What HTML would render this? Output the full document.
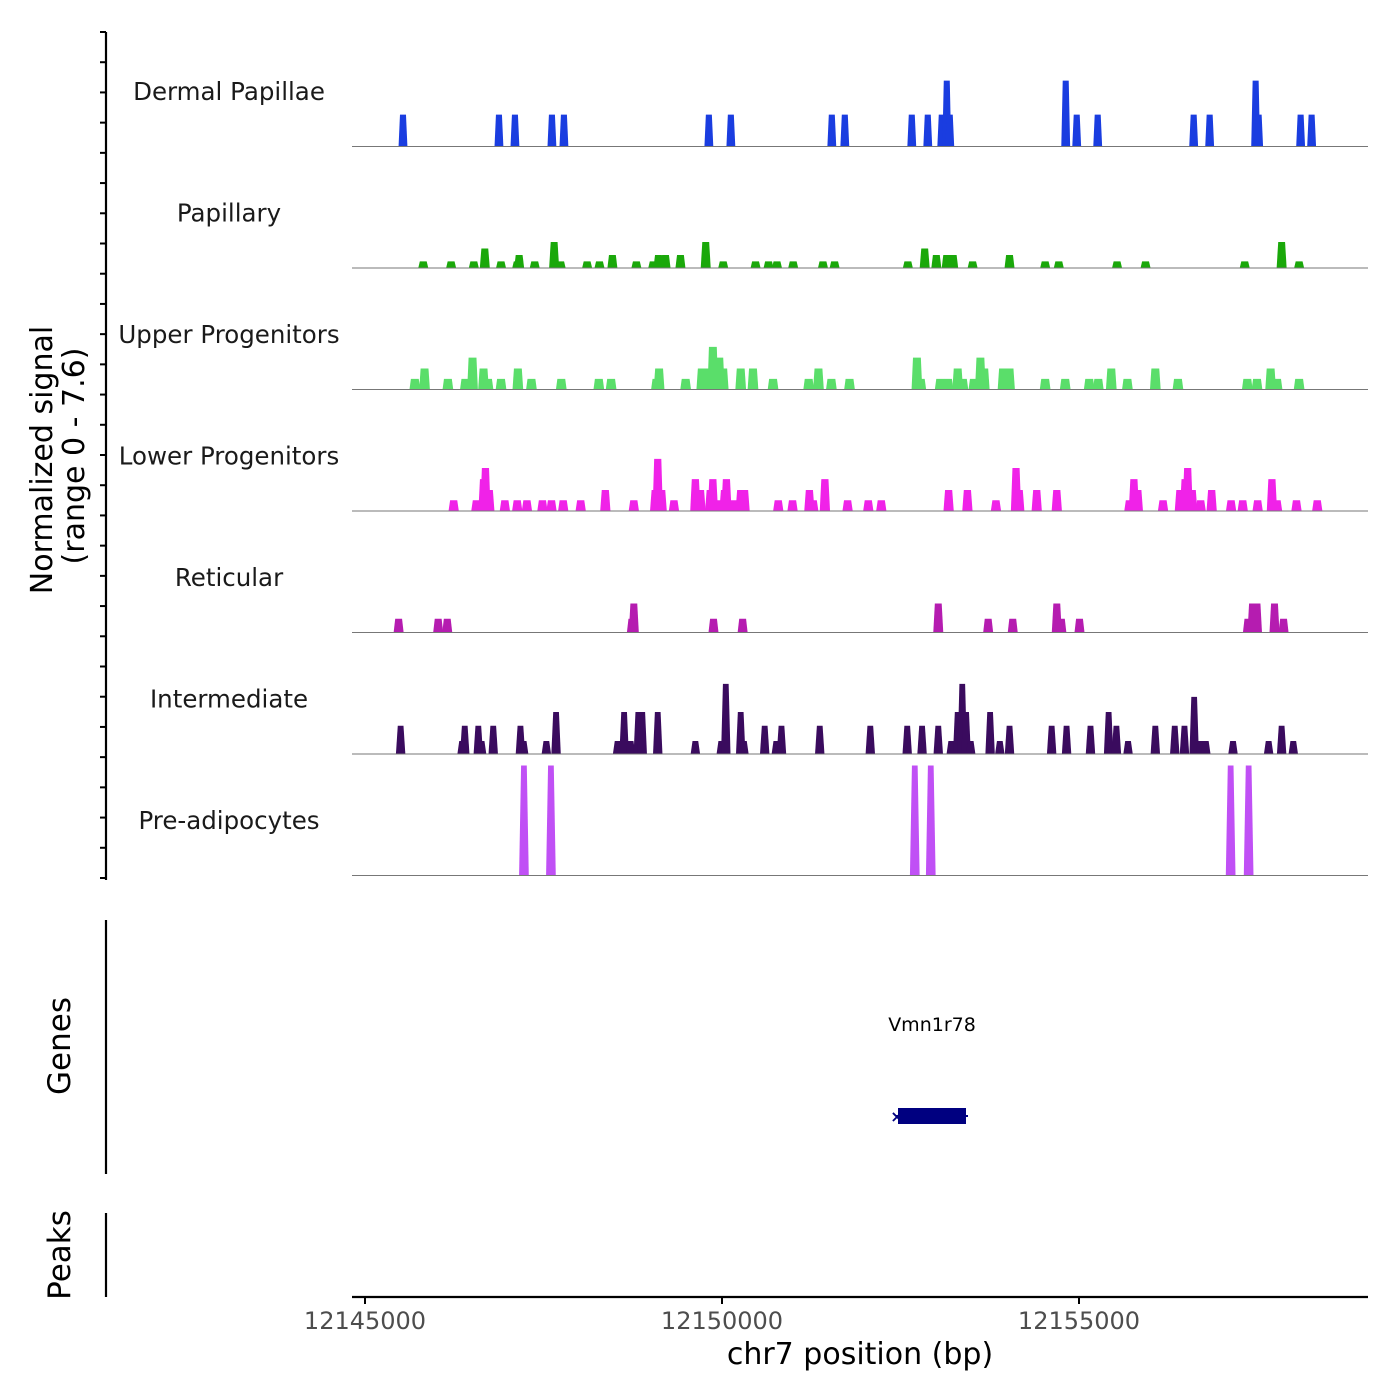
<!DOCTYPE html>
<html><head><meta charset="utf-8"><style>
body{margin:0;background:#fff}
svg{display:block;font-family:"DejaVu Sans","Liberation Sans",sans-serif}
</style></head><body>
<svg id="chart" width="1400" height="1400" viewBox="0 0 1400 1400" xmlns="http://www.w3.org/2000/svg">
<rect width="1400" height="1400" fill="#fff"/>
<g id="tracks"></g>
<g id="yaxis"></g>
<text transform="translate(52,460) rotate(-90)" text-anchor="middle" font-size="30" fill="#000">Normalized signal</text>
<text transform="translate(84,456) rotate(-90)" text-anchor="middle" font-size="30" fill="#000">(range 0 - 7.6)</text>
<line x1="106" y1="920" x2="106" y2="1174" stroke="#000" stroke-width="2.2"/>
<text transform="translate(70,1046) rotate(-90)" text-anchor="middle" font-size="31">Genes</text>
<text x="932" y="1031" text-anchor="middle" font-size="19">Vmn1r78</text>
<g>
<line x1="896" y1="1116" x2="968" y2="1116" stroke="#000080" stroke-width="2"/>
<rect x="898" y="1108" width="68" height="16" fill="#000080"/>
<text x="897" y="1122" text-anchor="middle" font-size="16" fill="#000080" font-weight="bold">×</text>
</g>
<line x1="106" y1="1213" x2="106" y2="1297" stroke="#000" stroke-width="2.2"/>
<text transform="translate(70,1255) rotate(-90)" text-anchor="middle" font-size="31">Peaks</text>
<g id="xaxis"></g>
<text x="860" y="1364" text-anchor="middle" font-size="30">chr7 position (bp)</text>
</svg>
<script>
const trackNames=["Dermal Papillae","Papillary","Upper Progenitors","Lower Progenitors","Reticular","Intermediate","Pre-adipocytes"];
const trackColors=["#1a3de0","#1aa80a","#5ade6a","#f022e8","#b51cb0","#3a0b5e","#c050f5"];
const xTicks=[12145000,12150000,12155000];
const dermalPos=[12145532,12146876,12147100,12147618,12147786,12149816,12150124,12151538,12151720,12152658,12152882,12153078,12153148,12153190,12154814,12154968,12155262,12156606,12156830,12157474,12157516,12158104,12158258];
const dermalVal=[2.2,2.2,2.2,2.2,2.2,2.2,2.2,2.2,2.2,2.2,2.2,2.2,4.55,2.2,4.55,2.2,2.2,2.2,2.2,4.55,2.2,2.2,2.2];
const papPos=[12145816,12146206,12146524,12146678,12146905,12147132,12147159,12147377,12147649,12147740,12148111,12148284,12148465,12148801,12149037,12149110,12149209,12149418,12149772,12150017,12150470,12150652,12150770,12150997,12151414,12151577,12152603,12152839,12153002,12153147,12153238,12153510,12154027,12154526,12154717,12155533,12155932,12157321,12157838,12158083];
const papVal=[0.46,0.46,0.46,1.35,0.46,0.46,0.9,0.46,1.8,0.46,0.46,0.46,0.9,0.46,0.46,0.9,0.9,0.9,1.8,0.46,0.46,0.46,0.46,0.46,0.46,0.46,0.46,1.35,0.9,0.9,0.9,0.46,0.9,0.46,0.46,0.46,0.46,0.46,1.8,0.46];
const upPos=[12145698,12145834,12146161,12146406,12146506,12146660,12146723,12146905,12147141,12147331,12147749,12148275,12148447,12149082,12149119,12149491,12149717,12149808,12149872,12149962,12150017,12150262,12150434,12150715,12151214,12151351,12151532,12151786,12152730,12152784,12153056,12153165,12153301,12153374,12153528,12153619,12153673,12153936,12154027,12154526,12154807,12155143,12155270,12155452,12155678,12156069,12156386,12157357,12157493,12157684,12157774,12158083];
const upVal=[0.73,1.45,0.73,0.73,2.2,1.45,0.73,0.73,1.45,0.73,0.73,0.73,0.73,0.73,1.45,0.73,1.45,1.45,2.95,2.2,1.45,1.45,1.45,0.73,0.73,1.45,0.73,0.73,2.2,0.73,0.73,0.73,1.45,0.73,0.73,2.2,1.45,1.45,1.45,0.73,0.73,0.73,0.73,1.45,0.73,1.45,0.73,0.73,0.73,1.45,0.73,0.73];
const lowPos=[12146242,12146560,12146660,12146687,12146741,12146959,12147132,12147268,12147485,12147612,12147776,12148021,12148366,12148765,12149064,12149100,12149155,12149327,12149627,12149699,12149835,12149872,12149953,12150035,12150062,12150153,12150262,12150316,12150788,12150988,12151224,12151278,12151441,12151759,12152049,12152231,12153174,12153437,12153837,12154118,12154163,12154408,12154689,12155706,12155769,12155824,12156177,12156413,12156486,12156522,12156586,12156704,12156858,12157130,12157293,12157502,12157702,12157774,12158046,12158337];
const lowVal=[0.74,0.74,2.2,2.97,1.45,0.74,0.74,0.74,0.74,0.74,0.74,0.74,1.45,0.74,1.45,3.6,1.45,0.74,2.2,1.45,1.45,2.2,0.74,1.45,2.2,0.74,1.45,1.45,0.74,0.74,1.45,0.74,2.2,0.74,0.74,0.74,1.45,1.45,0.74,2.97,1.45,1.45,1.45,0.74,2.2,1.45,0.74,1.45,2.2,2.97,1.45,0.74,1.45,0.74,0.74,0.74,2.2,0.74,0.74,0.74];
const retPos=[12145471,12146025,12146152,12148738,12148765,12149881,12150289,12153029,12153728,12154072,12154689,12154753,12155007,12157366,12157430,12157493,12157738,12157865];
const retVal=[0.95,0.95,0.95,0.95,2.0,0.95,0.95,2.0,0.95,0.95,2.0,0.95,0.95,0.95,2.0,2.0,2.0,0.95];
const intPos=[12145499,12146360,12146397,12146587,12146633,12146796,12147177,12147222,12147540,12147676,12148538,12148629,12148720,12148828,12148883,12149100,12149627,12149990,12150053,12150262,12150307,12150598,12150761,12150833,12151369,12152077,12152594,12152802,12153029,12153211,12153301,12153365,12153419,12153483,12153755,12153891,12154027,12154617,12154826,12155161,12155415,12155524,12155687,12156069,12156341,12156477,12156613,12156704,12156776,12157157,12157656,12157838,12158001];
const intVal=[1.95,0.9,1.95,1.95,0.9,1.95,1.95,0.9,0.9,2.9,0.9,2.9,0.9,2.9,2.9,2.9,0.9,0.9,4.85,2.9,0.9,1.95,0.9,1.95,1.95,1.95,1.95,1.95,1.95,0.9,2.9,4.85,2.9,0.9,2.9,0.9,1.95,1.95,1.95,1.95,2.9,1.95,0.9,1.95,1.95,1.95,3.95,0.9,0.9,0.9,0.9,1.95,0.9];
const prePos=[12147226,12147604,12152700,12152924,12157124,12157376];
const preVal=[7.6,7.6,7.6,7.6,7.6,7.6];

const NS="http://www.w3.org/2000/svg";
const X0=352,X1=1368;
function xs(bp){return 365+(bp-12145000)*357/5000;}
const trackTop=25,trackH=121.5,unitPx=14.47;
function baseY(i){return trackTop+trackH*(i+1);}
function ys(i,v){return baseY(i)-v*unitPx;}
const allPos=[dermalPos,papPos,upPos,lowPos,retPos,intPos,prePos];
const allVal=[dermalVal,papVal,upVal,lowVal,retVal,intVal,preVal];
const halfBot=[62,70,75,72,70,66,68],halfTop=[42,48,55,50,48,40,40];
const tg=document.getElementById('tracks');
for(let i=0;i<7;i++){
  const g=document.createElementNS(NS,'g');
  
  
  const lab=document.createElementNS(NS,'text');
  
  
  lab.setAttribute('x',229);lab.setAttribute('y',baseY(i)-trackH+75);
  lab.setAttribute('text-anchor','middle');lab.setAttribute('font-size','24.5');lab.setAttribute('fill','#1a1a1a');
  lab.textContent=trackNames[i];g.appendChild(lab);
  const P=allPos[i],V=allVal[i];
  for(let k=0;k<P.length;k++){
    const p=document.createElementNS(NS,'polygon');
    
    
    const b=baseY(i),t=ys(i,V[k]);
    p.setAttribute('points',`${xs(P[k]-halfBot[i])},${b} ${xs(P[k]-halfTop[i])},${t} ${xs(P[k]+halfTop[i])},${t} ${xs(P[k]+halfBot[i])},${b}`);
    p.setAttribute('fill',trackColors[i]);
    g.appendChild(p);
  }
  const bl=document.createElementNS(NS,'line');
  
  
  bl.setAttribute('x1',X0);bl.setAttribute('x2',X1);bl.setAttribute('y1',baseY(i));bl.setAttribute('y2',baseY(i));
  bl.setAttribute('stroke','#777');bl.setAttribute('stroke-width','1');
  g.appendChild(bl);
  tg.appendChild(g);
}
const ya=document.getElementById('yaxis');
let s=`<line x1="106" y1="32" x2="106" y2="880" stroke="#000" stroke-width="2.2"/>`;
for(let k=0;k<=28;k++){const y=32+k*(878-32)/28;s+=`<line x1="100" x2="106" y1="${y}" y2="${y}" stroke="#000" stroke-width="2"/>`;}
ya.innerHTML=s;
const xa=document.getElementById('xaxis');
xa.innerHTML=`<line x1="${X0}" y1="1297" x2="${X1}" y2="1297" stroke="#000" stroke-width="2.2"/>`;
xTicks.forEach(v=>{
  const l=document.createElementNS(NS,'line');
  
  
  l.setAttribute('x1',xs(v));l.setAttribute('x2',xs(v));l.setAttribute('y1',1297);l.setAttribute('y2',1304);
  l.setAttribute('stroke','#000');l.setAttribute('stroke-width','2');xa.appendChild(l);
  const tx=document.createElementNS(NS,'text');
  
  
  tx.setAttribute('x',xs(v));tx.setAttribute('y',1329);tx.setAttribute('text-anchor','middle');
  tx.setAttribute('font-size','24');tx.setAttribute('fill','#4d4d4d');tx.textContent=v;xa.appendChild(tx);
});
</script>
</body></html>
